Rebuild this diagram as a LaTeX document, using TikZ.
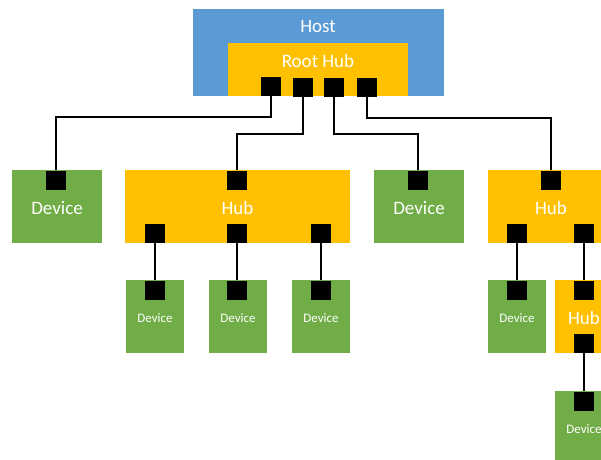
\documentclass[tikz,border=0pt]{standalone}
\usepackage{fontspec}
\setmainfont{Carlito}
\usetikzlibrary{positioning}
\definecolor{hostblue}{HTML}{5B9BD5}
\definecolor{hubgold}{HTML}{FFC000}
\definecolor{devgreen}{HTML}{70AD47}
\tikzset{
  box/.style={inner sep=0pt, text=white, text height=17pt, font=\fontsize{19}{19}\selectfont},
  smallbox/.style={box, fill=devgreen, minimum width=58pt, minimum height=73pt, text height=12pt, font=\fontsize{13}{13}\selectfont},
  port/.style={fill=black, minimum width=20pt, minimum height=19pt, inner sep=0pt},
  wire/.style={line width=2pt},
}
\begin{document}
\begin{tikzpicture}[x=1pt,y=-1pt]
\clip (0,0) rectangle (601,459);
% host with root hub
\node[box, fill=hostblue, minimum width=251pt, minimum height=87pt] (host) at (318.5,52.5) {};
\node[box] (hosttxt) at (318,24) {Host};
\node[box, fill=hubgold, minimum width=180pt, minimum height=53pt] (root) at (318,69.5) {};
\node[box] (roottxt) at (318,59) {Root Hub};
\node[port] (rp1) at (271,86.5) {};
\node[port] (rp2) at (303,87) {};
\node[port] (rp3) at (334,87) {};
\node[port] (rp4) at (367,87) {};

% second row
\node[box, fill=devgreen, minimum width=90pt, minimum height=73pt] (dev1) at (57,206.5) {Device};
\node[box, fill=hubgold, minimum width=225pt, minimum height=73pt] (hub1) at (237.5,206.5) {Hub};
\node[box, fill=devgreen, minimum width=90pt, minimum height=73pt] (dev2) at (419,206.5) {Device};
\node[box, fill=hubgold, minimum width=126pt, minimum height=73pt] (hub2) at (551,206.5) {Hub};
\node[port] (dev1p) at (56,180) {};
\node[port] (hub1p) at (237,180) {};
\node[port] (dev2p) at (418,180) {};
\node[port] (hub2p) at (551,180) {};
\node[port] (hub1a) at (155,233.5) {};
\node[port] (hub1b) at (237,233.5) {};
\node[port] (hub1c) at (321,233.5) {};
\node[port] (hub2a) at (517,233.5) {};
\node[port] (hub2b) at (584,233.5) {};

% third row
\node[smallbox] (dev3) at (155,316.5) {Device};
\node[smallbox] (dev4) at (238,316.5) {Device};
\node[smallbox] (dev5) at (321,316.5) {Device};
\node[smallbox] (dev6) at (517,316.5) {Device};
\node[box, fill=hubgold, minimum width=58pt, minimum height=73pt] (hub3) at (584,316.5) {Hub};
\node[port] (dev3p) at (155,290) {};
\node[port] (dev4p) at (237,290) {};
\node[port] (dev5p) at (321,290) {};
\node[port] (dev6p) at (517,290) {};
\node[port] (hub3p) at (584,290) {};
\node[port] (hub3a) at (584,343.5) {};

% last device
\node[smallbox, minimum height=74pt] (dev7) at (584,428) {Device};
\node[port] (dev7p) at (584,401) {};

% cables
\draw[wire] (rp1.south) -- ++(0,21) -| (dev1p.north);
\draw[wire] (rp2.south) -- ++(0,37) -| (hub1p.north);
\draw[wire] (rp3.south) -- ++(0,37) -| (dev2p.north);
\draw[wire] (rp4.south) -- ++(0,21) -| (hub2p.north);
\draw[wire] (hub1a) -- (dev3p);
\draw[wire] (hub1b) -- (dev4p);
\draw[wire] (hub1c) -- (dev5p);
\draw[wire] (hub2a) -- (dev6p);
\draw[wire] (hub2b) -- (hub3p);
\draw[wire] (hub3a) -- (dev7p);
\end{tikzpicture}
\end{document}
